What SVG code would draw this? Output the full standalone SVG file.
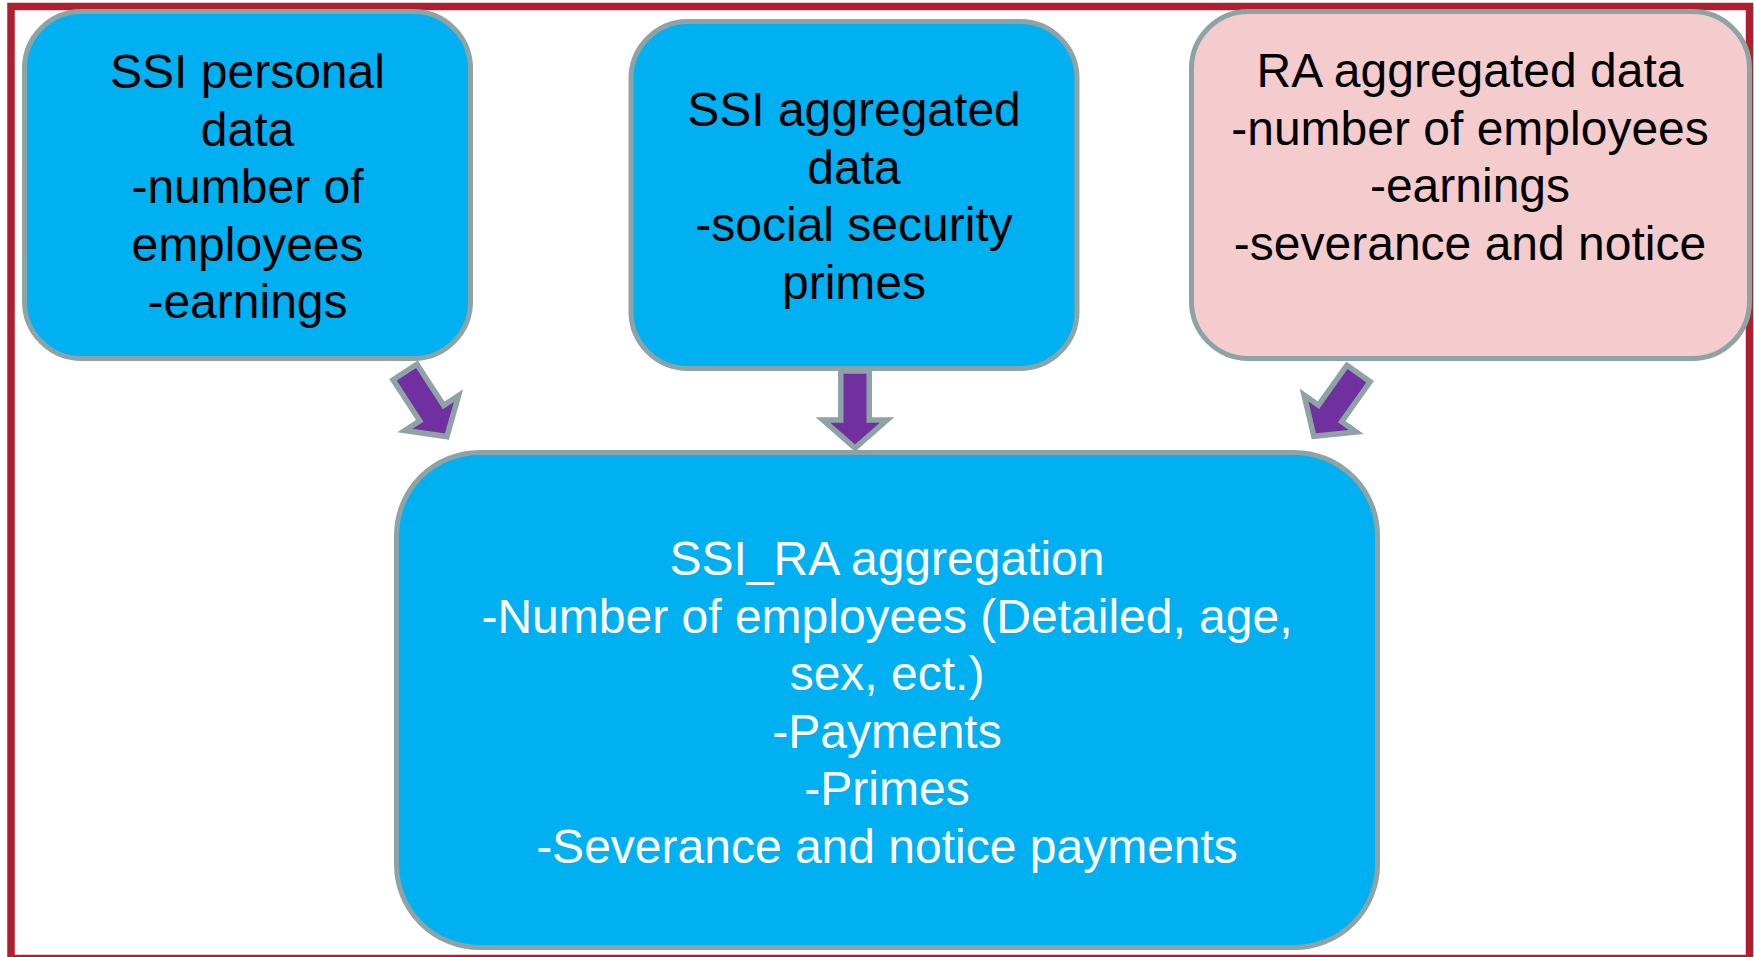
<svg xmlns="http://www.w3.org/2000/svg" width="1754" height="957" viewBox="0 0 1754 957">
<style>
.box{stroke:#8DA3A6;stroke-width:5}
.blue{fill:#00B0F0}
.pink{fill:#F4CCCE}
.t{font-family:"Liberation Sans",Arial,sans-serif;font-size:48px;text-anchor:middle}
.dark{fill:#000000}
.light{fill:#FFFFFF}
.arrow{fill:#7030A0;stroke:#8DA3A6;stroke-width:5.5;stroke-linejoin:miter;stroke-miterlimit:10}
</style>
<defs>
<path id="arr" d="M -14.25,0 L 14.25,0 L 14.25,49 L 32,49 L 0,77 L -32,49 L -14.25,49 Z"/>
</defs>
<rect x="0" y="0" width="1754" height="957" fill="#FFFFFF"/>
<rect id="frame" x="11" y="6.5" width="1738.5" height="952" fill="none" stroke="#AE2030" stroke-width="7.5"/>
<g id="connectors">
<use href="#arr" class="arrow" transform="translate(405,372) rotate(-33)"/>
<use href="#arr" class="arrow" transform="translate(855,371)"/>
<use href="#arr" class="arrow" transform="translate(1358.5,373.5) rotate(35.4)"/>
</g>
<g id="ssi-personal">
<rect class="box blue" x="24.5" y="11.5" width="446" height="347" rx="57" ry="57"/>
<text class="t dark" x="247.5" y="88">SSI personal</text>
<text class="t dark" x="247.5" y="145.5">data</text>
<text class="t dark" x="247.5" y="203">-number of</text>
<text class="t dark" x="247.5" y="260.5">employees</text>
<text class="t dark" x="247.5" y="318">-earnings</text>
</g>
<g id="ssi-aggregated">
<rect class="box blue" x="631" y="21.5" width="446" height="347" rx="57" ry="57"/>
<text class="t dark" x="854" y="126">SSI aggregated</text>
<text class="t dark" x="854" y="183.5">data</text>
<text class="t dark" x="854" y="241">-social security</text>
<text class="t dark" x="854" y="298.5">primes</text>
</g>
<g id="ra-aggregated">
<rect class="box pink" x="1191.5" y="11.5" width="558" height="347" rx="57" ry="57"/>
<text class="t dark" x="1470" y="87">RA aggregated data</text>
<text class="t dark" x="1470" y="144.5">-number of employees</text>
<text class="t dark" x="1470" y="202">-earnings</text>
<text class="t dark" x="1470" y="259.5">-severance and notice</text>
</g>
<g id="ssi-ra-aggregation">
<rect class="box blue" x="396.5" y="452.5" width="981" height="495" rx="83" ry="83"/>
<text class="t light" x="887" y="575">SSI_RA aggregation</text>
<text class="t light" x="887" y="632.5">-Number of employees (Detailed, age,</text>
<text class="t light" x="887" y="690">sex, ect.)</text>
<text class="t light" x="887" y="747.5">-Payments</text>
<text class="t light" x="887" y="805">-Primes</text>
<text class="t light" x="887" y="862.5">-Severance and notice payments</text>
</g>
</svg>
